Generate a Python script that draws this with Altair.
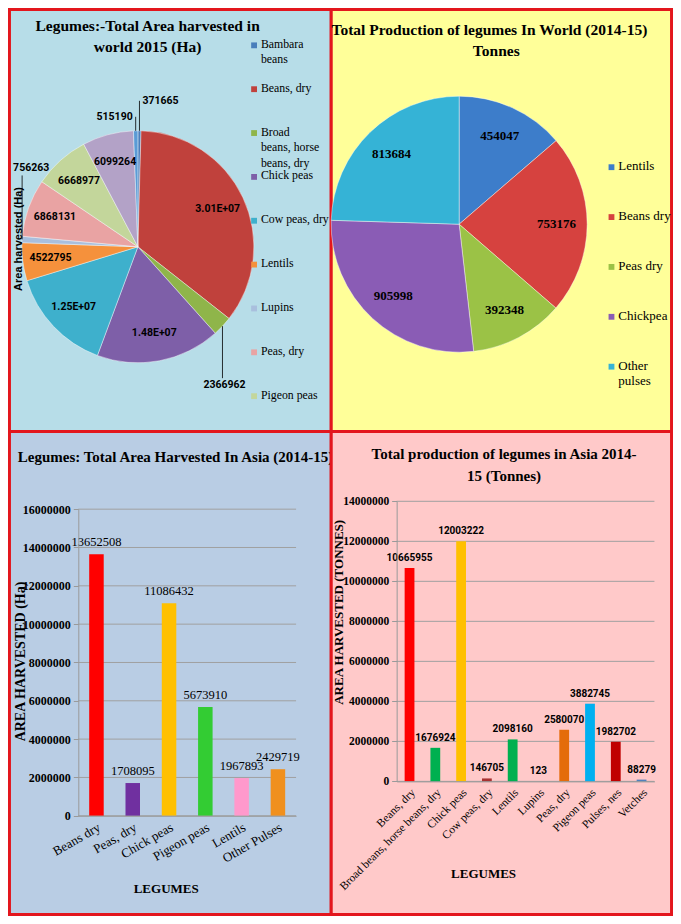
import altair as alt
import pandas as pd

SERIF = "Liberation Serif, Times New Roman, serif"
SANS = "Liberation Sans, Arial, sans-serif"
NARROW = "Roboto, Liberation Sans, sans-serif"
RED = "#e3161d"

W, H = 665, 908
SX, SY = W / 681, H / 924


def px(x):
    return round(x * SX, 2)


def py(y):
    return round(y * SY, 2)


# ---------------- data ----------------
# Panel 1: world area harvested 2015 (Ha)
aw_names = ["Bambara beans", "Beans, dry", "Broad beans, horse beans, dry", "Chick peas",
            "Cow peas, dry", "Lentils", "Lupins", "Peas, dry", "Pigeon peas",
            "Pulses, nes", "Vetches"]
aw_values = [371665, 30100000, 2366962, 14800000, 12500000, 4522795, 756263,
             6868131, 6668977, 6099264, 515190]
aw_colors = ["#4a7ebb", "#c0413c", "#8fb54a", "#7e5fa8", "#3eb0cc", "#f5913c",
             "#a9bfdd", "#e9a3a3", "#c3d69b", "#b3a2c7", "#5b9bd5"]
aw_legend = ["Bambara\nbeans", "Beans, dry", "Broad\nbeans, horse\nbeans, dry", "Chick peas",
             "Cow peas, dry", "Lentils", "Lupins", "Peas, dry", "Pigeon peas"]
aw_outer = ["Bambara beans", "Vetches", "Lupins", "Broad beans, horse beans, dry"]

# Panel 2: world production (Tonnes)
pw_names = ["Lentils", "Beans dry", "Peas dry", "Chickpea", "Other pulses"]
pw_values = [454047, 753176, 392348, 905998, 813684]
pw_colors = ["#3d7dca", "#d6423f", "#9bc246", "#8a5cb5", "#35b3d6"]
pw_legend = ["Lentils", "Beans dry", "Peas dry", "Chickpea", "Other\npulses"]

# Panel 3: Asia area harvested (Ha)
aa_names = ["Beans dry", "Peas, dry", "Chick peas", "Pigeon peas", "Lentils", "Other Pulses"]
aa_values = [13652508, 1708095, 11086432, 5673910, 1967893, 2429719]
aa_colors = ["#ff0000", "#7030a0", "#ffc000", "#33cc33", "#ff99cc", "#f0901e"]
aa_ticks = [0, 2000000, 4000000, 6000000, 8000000, 10000000, 12000000, 14000000, 16000000]

# Panel 4: Asia production (Tonnes)
pa_names = ["Beans, dry", "Broad beans, horse beans, dry", "Chick peas", "Cow peas, dry",
            "Lentils", "Lupins", "Peas, dry", "Pigeon peas", "Pulses, nes", "Vetches"]
pa_values = [10665955, 1676924, 12003222, 146705, 2098160, 123, 2580070, 3882745,
             1982702, 88279]
pa_colors = ["#ff0000", "#00b050", "#ffc000", "#a83232", "#00b050", "#7f7f7f",
             "#e46c0a", "#00b0f0", "#c00000", "#4f81bd"]
pa_ticks = [0, 2000000, 4000000, 6000000, 8000000, 10000000, 12000000, 14000000]

T1 = ["Legumes:-Total Area harvested  in", "world 2015 (Ha)"]
T2 = ["Total  Production  of  legumes  In  World  (2014-15)", "Tonnes"]
T3 = "Legumes: Total  Area Harvested In Asia (2014-15)"
T4 = ["Total production of legumes in Asia 2014-", "15 (Tonnes)"]


# ---------------- helpers ----------------
def txt(s, x, y, size, weight="bold", font=SERIF, align="center", angle=0, baseline="middle"):
    return alt.Chart(alt.Data(values=[{"t": s}])).mark_text(
        font=font, fontSize=size, fontWeight=weight, align=align, baseline=baseline,
        angle=angle, color="black"
    ).encode(x=alt.value(px(x)), y=alt.value(py(y)), text="t:N")


def bg(x0, y0, x1, y1, fill):
    return alt.Chart(alt.Data(values=[{"a": 1}])).mark_rect(
        fill=fill, stroke=RED, strokeWidth=3
    ).encode(x=alt.value(px(x0)), x2=alt.value(px(x1)), y=alt.value(py(y0)), y2=alt.value(py(y1)))


def legend(names, labels, colors, xm, y0, y1, size=13, lh=15.5):
    df = pd.DataFrame({"name": names, "label": labels})
    ys = alt.Scale(domain=names, range=[py(y0), py(y1)], padding=0)
    sq = alt.Chart(df).mark_square(size=34, opacity=1).encode(
        x=alt.value(px(xm)),
        y=alt.Y("name:N", scale=ys, axis=None),
        color=alt.Color("name:N", scale=alt.Scale(domain=names, range=colors), legend=None),
    )
    tx = alt.Chart(df).mark_text(
        font=SERIF, fontSize=size, align="left", baseline="top", dy=-size * 0.55,
        lineBreak="\n", lineHeight=lh, color="black"
    ).encode(x=alt.value(px(xm + 7)), y=alt.Y("name:N", scale=ys, axis=None), text="label:N")
    return alt.layer(sq, tx)


def pie_arcs(df, names, colors, cx, cy, R):
    return alt.Chart(df).mark_arc(outerRadius=R, stroke="white", strokeWidth=0.6, strokeOpacity=0.7).encode(
        theta=alt.Theta("v:Q", stack=True),
        color=alt.Color("name:N", scale=alt.Scale(domain=names, range=colors), legend=None),
        order=alt.Order("idx:Q"),
        x=alt.value(px(cx)),
        y=alt.value(py(cy)),
    )


def pie_pos(df, cx, cy, r):
    return alt.Chart(df).transform_joinaggregate(total="sum(v)").transform_window(
        cum="sum(v)", sort=[alt.SortField("idx", order="ascending")]
    ).transform_calculate(
        m="(datum.cum - datum.v / 2) / datum.total * 2 * PI",
        lx=f"{px(cx)} + {r} * sin(datum.m)",
        ly=f"{py(cy)} - {r} * cos(datum.m)",
        lab="datum.v >= 1e7 ? replace(format(datum.v, '.2e'), 'e+', 'E+0') : format(datum.v, 'd')",
    )


def outer_label(df, cx, cy, R, name, L, align, dx, dy, baseline, font, size):
    base = pie_pos(df, cx, cy, R).transform_filter(alt.datum.name == name).transform_calculate(
        ly2=f"datum.ly + {L}"
    )
    rule = base.mark_rule(color="black", strokeWidth=0.8).encode(
        x=alt.X("lx:Q", scale=None, axis=None),
        y=alt.Y("ly:Q", scale=None, axis=None),
        y2="ly2:Q",
    )
    t = base.mark_text(font=font, fontSize=size, fontWeight="bold", align=align, dx=dx, dy=dy,
                       baseline=baseline, color="black").encode(
        x=alt.X("lx:Q", scale=None, axis=None),
        y=alt.Y("ly2:Q", scale=None, axis=None),
        text="lab:N",
    )
    return alt.layer(rule, t)


def bars(names, values, colors, ticks, x0, x1, ybase, ytop, ymax, pad,
         vfont, vsize, vweight, lab_angle, lab_size, ylab_size):
    df = pd.DataFrame({"name": names, "v": values})
    xs = alt.Scale(domain=names, range=[px(x0), px(x1)], paddingInner=pad, paddingOuter=pad / 2)
    ys = alt.Scale(domain=[0, ymax], range=[py(ybase), py(ytop)], nice=False, zero=True)
    yaxis = alt.Axis(orient="left", offset=-px(x0), values=ticks, format="d", grid=False,
                     domainColor="#9a9a9a", tickColor="#9a9a9a", tickSize=5, zindex=1,
                     labelFont=SERIF, labelFontWeight="bold", labelFontSize=ylab_size,
                     labelColor="black", labelPadding=3, title=None)
    xaxis = alt.Axis(orient="bottom", offset=py(ybase) - H, labelAngle=lab_angle,
                     labelAlign="right", labelBaseline="top", ticks=False, grid=False, zindex=1,
                     domainColor="#9a9a9a", labelFont=SERIF, labelFontSize=lab_size,
                     labelColor="black", labelPadding=5, labelLimit=400, title=None)
    grid = alt.Chart(pd.DataFrame({"t": ticks})).mark_rule(color="#a0a0a0", strokeWidth=1).encode(
        y=alt.Y("t:Q", scale=ys, axis=yaxis), x=alt.value(px(x0)), x2=alt.value(px(x1))
    )
    b = alt.Chart(df).mark_bar().encode(
        x=alt.X("name:N", scale=xs, axis=xaxis, sort=names),
        y=alt.Y("v:Q", scale=ys, axis=yaxis),
        color=alt.Color("name:N", scale=alt.Scale(domain=names, range=colors), legend=None),
    )
    t = alt.Chart(df).mark_text(baseline="bottom", dy=-5, font=vfont, fontSize=vsize,
                                fontWeight=vweight, color="black").encode(
        x=alt.X("name:N", scale=xs, axis=xaxis, sort=names),
        y=alt.Y("v:Q", scale=ys, axis=yaxis),
        text=alt.Text("v:Q", format="d"),
    )
    return alt.layer(grid, b, t)


layers = []

# ---------- Panel 1 ----------
CX1, CY1, R1 = 133, 243, 116
df1 = pd.DataFrame({"name": aw_names, "v": aw_values, "idx": list(range(len(aw_names)))})
layers.append(bg(1.5, 1.5, 331, 431, "#b7dde8"))
layers.append(txt(T1[0], 143, 18, 15.5))
layers.append(txt(T1[1], 143, 40, 15.5))
layers.append(pie_arcs(df1, aw_names, aw_colors, CX1, CY1, R1))
inner1 = pie_pos(df1, CX1, CY1, R1 * 0.76).transform_filter(
    alt.FieldOneOfPredicate(field="name", oneOf=[n for n in aw_names if n not in aw_outer])
).mark_text(font=NARROW, fontSize=10.5, fontWeight="bold", color="black").encode(
    x=alt.X("lx:Q", scale=None, axis=None), y=alt.Y("ly:Q", scale=None, axis=None), text="lab:N"
)
layers.append(inner1)
layers.append(outer_label(df1, CX1, CY1, R1, "Bambara beans", -30, "left", 3, 0, "middle", NARROW, 10.5))
layers.append(outer_label(df1, CX1, CY1, R1, "Vetches", -14, "right", -3, 0, "middle", NARROW, 10.5))
layers.append(outer_label(df1, CX1, CY1, R1, "Lupins", -64, "left", -9, -2, "bottom", NARROW, 10.5))
layers.append(outer_label(df1, CX1, CY1, R1, "Broad beans, horse beans, dry", 52, "center", 2, 2, "top", NARROW, 10.5))
layers.append(txt("Area harvested (Ha)", 11, 235, 11, font=SANS, angle=270))
layers.append(legend(aw_names[:9], aw_legend, aw_colors[:9], 252, 38, 395, size=11.8, lh=15.5))

# ---------- Panel 2 ----------
CX2, CY2, R2 = 462, 220, 128
df2 = pd.DataFrame({"name": pw_names, "v": pw_values, "idx": list(range(len(pw_names)))})
layers.append(bg(331, 1.5, 679.5, 431, "#ffff99"))
layers.append(txt(T2[0], 493, 22, 15.5))
layers.append(txt(T2[1], 500, 44, 15.5))
layers.append(pie_arcs(df2, pw_names, pw_colors, CX2, CY2, R2))
inner2 = pie_pos(df2, CX2, CY2, R2 * 0.76).mark_text(
    font=SERIF, fontSize=13, fontWeight="bold", color="black"
).encode(x=alt.X("lx:Q", scale=None, axis=None), y=alt.Y("ly:Q", scale=None, axis=None), text="lab:N")
layers.append(inner2)
layers.append(legend(pw_names, pw_legend, pw_colors, 618, 162, 365))

# ---------- Panel 3 ----------
layers.append(bg(1.5, 431, 331, 922.5, "#b9cde4"))
layers.append(txt(T3, 10, 457, 15, align="left"))
layers.append(bars(aa_names, aa_values, aa_colors, aa_ticks, 72, 295, 822, 510, 16000000, 0.6,
                   SERIF, 12.5, "normal", -30, 13, 12))
layers.append(txt("AREA HARVESTED (Ha)", 13, 665, 14, angle=270))
layers.append(txt("LEGUMES", 162, 897, 13))

# ---------- Panel 4 ----------
layers.append(bg(331, 431, 679.5, 922.5, "#ffc9c9"))
layers.append(txt(T4[0], 508, 454, 15))
layers.append(txt(T4[1], 508, 476, 15))
layers.append(bars(pa_names, pa_values, pa_colors, pa_ticks, 398, 662, 787, 502, 14000000, 0.62,
                   NARROW, 10, "bold", -45, 11.5, 11.5))
layers.append(txt("AREA HARVESTED (TONNES)", 339, 615, 13, angle=270))
layers.append(txt("LEGUMES", 487, 881, 13))

chart = alt.layer(*layers).properties(
    width=W, height=H, padding=0, autosize=alt.AutoSizeParams(type="none")
).resolve_scale(
    x="independent", y="independent", color="independent", theta="independent"
).configure_view(stroke=None)

chart.save("out.html", embed_options={"renderer": "svg", "actions": False})
